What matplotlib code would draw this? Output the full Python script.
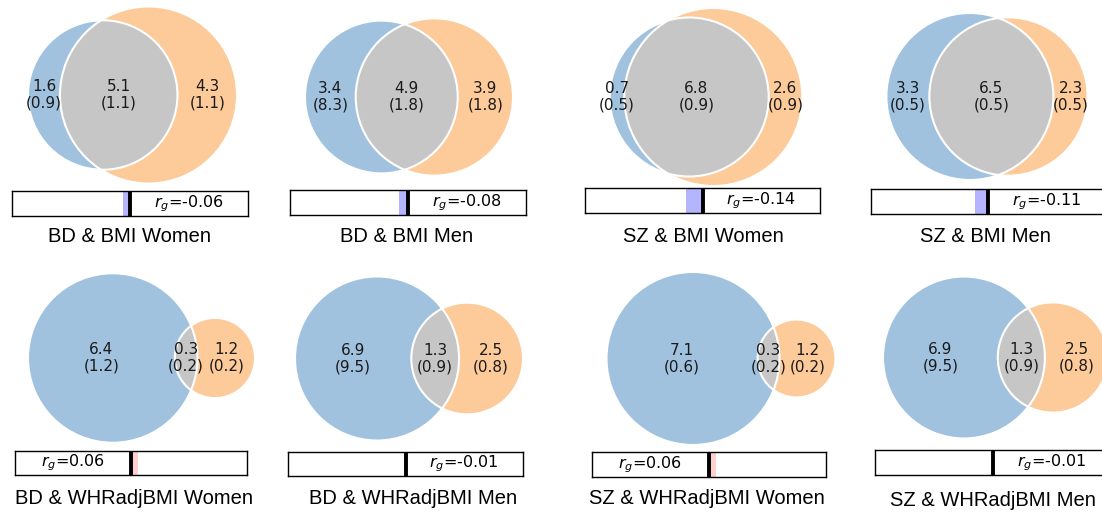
import numpy as np
import matplotlib
matplotlib.use("Agg")
import matplotlib.pyplot as plt
from matplotlib.patches import Circle

W, H = 1102, 513

titles = ["BD & BMI Women", "BD & BMI Men", "SZ & BMI Women", "SZ & BMI Men",
          "BD & WHRadjBMI Women", "BD & WHRadjBMI Men",
          "SZ & WHRadjBMI Women", "SZ & WHRadjBMI Men"]
# polygenic overlap, thousands of causal variants (sd in brackets)
a_only = [1.6, 3.4, 0.7, 3.3, 6.4, 6.9, 7.1, 6.9]
a_only_sd = [0.9, 8.3, 0.5, 0.5, 1.2, 9.5, 0.6, 9.5]
shared = [5.1, 4.9, 6.8, 6.5, 0.3, 1.3, 0.3, 1.3]
shared_sd = [1.1, 1.8, 0.9, 0.5, 0.2, 0.9, 0.2, 0.9]
b_only = [4.3, 3.9, 2.6, 2.3, 1.2, 2.5, 1.2, 2.5]
b_only_sd = [1.1, 1.8, 0.9, 0.5, 0.2, 0.8, 0.2, 0.8]
rg = [-0.06, -0.08, -0.14, -0.11, 0.06, -0.01, 0.06, -0.01]

# panel boxes in pixels: left, top, right, bottom
venn_boxes = [(28, 5, 237, 185), (305, 18, 513, 176), (609, 8, 803, 186), (886, 13, 1088, 180),
              (28, 273, 255, 443), (295, 275, 523, 442), (605, 272, 837, 445), (883, 275, 1108, 440)]
bar_boxes = [(12, 191, 248, 216), (290, 190, 526, 215), (585, 188, 820, 213), (871, 189, 1105, 214),
             (15, 451, 247, 475), (288, 452, 523, 476), (592, 452, 826, 477), (875, 450, 1111, 475)]
title_pos = [(130, 236), (407, 236), (703, 236), (985, 236),
             (134, 499), (413, 499), (707, 499), (993, 500)]

BLUE = "#a0c2df"
ORANGE = "#fdca9a"
GREY = "#c6c6c6"


def lens_area(d, r1, r2):
    if d >= r1 + r2:
        return 0.0
    if d <= abs(r1 - r2):
        return np.pi * min(r1, r2) ** 2
    a1 = np.arccos((d * d + r1 * r1 - r2 * r2) / (2 * d * r1))
    a2 = np.arccos((d * d + r2 * r2 - r1 * r1) / (2 * d * r2))
    k = np.sqrt((-d + r1 + r2) * (d + r1 - r2) * (d - r1 + r2) * (d + r1 + r2))
    return r1 * r1 * a1 + r2 * r2 * a2 - 0.5 * k


def center_distance(r1, r2, area):
    lo, hi = abs(r1 - r2), r1 + r2
    for _ in range(100):
        mid = 0.5 * (lo + hi)
        if lens_area(mid, r1, r2) > area:
            lo = mid
        else:
            hi = mid
    return 0.5 * (lo + hi)


def to_rect(box):
    x0, y0, x1, y1 = box
    return [x0 / W, 1 - y1 / H, (x1 - x0) / W, (y1 - y0) / H]


fig = plt.figure(figsize=(W / 100, H / 100), dpi=100)

for i in range(8):
    ra = np.sqrt((a_only[i] + shared[i]) / np.pi)
    rb = np.sqrt((b_only[i] + shared[i]) / np.pi)
    d = center_distance(ra, rb, shared[i])

    ax = fig.add_axes(to_rect(venn_boxes[i]))
    ca = Circle((0, 0), ra, facecolor=BLUE, edgecolor="none")
    cb = Circle((d, 0), rb, facecolor=ORANGE, edgecolor="none")
    ax.add_patch(ca)
    ax.add_patch(cb)
    lens = Circle((0, 0), ra, facecolor=GREY, edgecolor="none")
    ax.add_patch(lens)
    lens.set_clip_path(cb)
    ax.add_patch(Circle((0, 0), ra, fill=False, edgecolor="white", lw=1.5))
    ax.add_patch(Circle((d, 0), rb, fill=False, edgecolor="white", lw=1.5))

    xa = 0.5 * ((-ra) + (d - rb))
    xs = 0.5 * ((d - rb) + ra)
    xb = 0.5 * (ra + (d + rb))
    for x, v, s in [(xa, a_only[i], a_only_sd[i]), (xs, shared[i], shared_sd[i]),
                    (xb, b_only[i], b_only_sd[i])]:
        ax.text(x, 0, f"{v:.1f}\n({s:.1f})", ha="center", va="center",
                fontsize=11, color="#1a1a1a", linespacing=1.1)

    ax.set_xlim(min(-ra, d - rb), max(ra, d + rb))
    ax.set_ylim(-max(ra, rb), max(ra, rb))
    ax.set_aspect("equal", anchor="C")
    ax.axis("off")

    # genetic correlation bar
    bx = fig.add_axes(to_rect(bar_boxes[i]))
    bx.set_xlim(-1, 1)
    bx.set_ylim(0, 1)
    band = "#b4b4ff" if rg[i] < 0 else "#ffd0d0"
    bx.axvspan(min(rg[i], 0), max(rg[i], 0), color=band, lw=0)
    bx.axvline(0, color="black", lw=2.8)
    tx = 0.5 if rg[i] < 0 else -0.5
    bx.text(tx, 0.5, f"$r_g$={rg[i]:.2f}", ha="center", va="center", fontsize=11.5)
    bx.set_xticks([])
    bx.set_yticks([])
    for sp in bx.spines.values():
        sp.set_linewidth(1.0)

    fig.text(title_pos[i][0] / W, 1 - title_pos[i][1] / H, titles[i],
             ha="center", va="center", fontsize=14.5, family="Liberation Sans")

fig.savefig("out.png", dpi=100)
